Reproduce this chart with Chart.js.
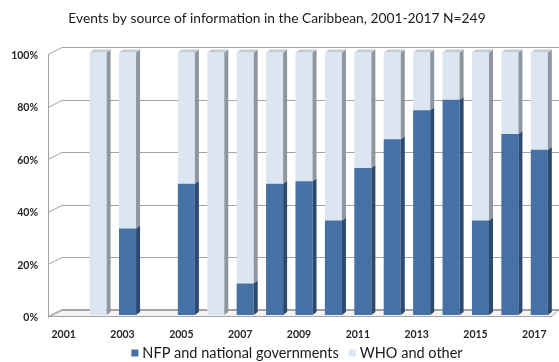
<!DOCTYPE html>
<html>
<head>
<meta charset="utf-8">
<title>Events by source of information</title>
<script src="https://cdn.jsdelivr.net/npm/chart.js@4.4.1/dist/chart.umd.min.js"></script>
<style>
  html, body { margin: 0; padding: 0; background: #fff; }
  #wrap { width: 559px; height: 362px; }
</style>
</head>
<body>
<div id="wrap"><canvas id="chart" width="559" height="362"></canvas></div>
<script>
// Share of events per year by source (percent), Caribbean 2001-2017
const years = ['2001','2002','2003','2004','2005','2006','2007','2008','2009',
               '2010','2011','2012','2013','2014','2015','2016','2017'];
const nfpShare = [null, 0, 33, null, 50, 0, 12, 50, 51, 36, 56, 67, 78, 82, 36, 69, 63];
const whoShare = [null, 100, 67, null, 50, 100, 88, 50, 49, 64, 44, 33, 22, 18, 64, 31, 37];
const yTicks = [0, 20, 40, 60, 80, 100];

const COLORS = {
  nfp:   { front: '#4571a5', side: '#2c4a6f', top: '#3a6191' },
  who:   { front: '#dce6f2', side: '#8e969f', top: '#c3ccd6' },
  grid:  '#a3a3a3',
  text:  '#262626'
};

// depth offsets for the fake 3D look
const BAR_DX = 4, BAR_DY = 3;
const WALL_DX = 14, WALL_DY = 7;

// legend row under the axis
const LEGEND_CX = 297, LEGEND_Y = 353, LEGEND_FONT = '14.5px Lato, "Open Sans", sans-serif';

Chart.defaults.font.family = 'Lato, "Open Sans", sans-serif';
Chart.defaults.color = COLORS.text;

function poly(ctx, pts, fill){
  ctx.beginPath();
  ctx.moveTo(pts[0][0], pts[0][1]);
  for(let i = 1; i < pts.length; i++) ctx.lineTo(pts[i][0], pts[i][1]);
  ctx.closePath();
  ctx.fillStyle = fill;
  ctx.fill();
}

// walls, floor and gridlines behind the bars
const wallPlugin = {
  id: 'wall3d',
  beforeDatasetsDraw(chart){
    const {ctx, chartArea, scales} = chart;
    const y = scales.y;
    const x0 = chartArea.left - 6;
    const right = chart.width;
    ctx.save();
    ctx.lineWidth = 1;
    ctx.strokeStyle = COLORS.grid;

    // floor slab
    const fy = y.getPixelForValue(0) + 1.5;
    ctx.beginPath();
    ctx.moveTo(x0, fy);
    ctx.lineTo(x0 + WALL_DX, fy - WALL_DY);
    ctx.lineTo(right, fy - WALL_DY);
    ctx.lineTo(right - WALL_DY, fy);
    ctx.closePath();
    ctx.fillStyle = '#f4f4f4';
    ctx.fill();
    ctx.stroke();

    // gridlines bent back onto the rear wall
    yTicks.forEach(v => {
      const py = Math.round(y.getPixelForValue(v) + 1.5) + 0.5;
      ctx.beginPath();
      ctx.moveTo(x0, py);
      ctx.lineTo(x0 + WALL_DX, py - WALL_DY);
      ctx.lineTo(right, py - WALL_DY);
      ctx.stroke();
    });

    // left wall edge
    ctx.beginPath();
    ctx.moveTo(x0 + 0.5, y.getPixelForValue(100) + 1.5);
    ctx.lineTo(x0 + 0.5, fy);
    ctx.stroke();
    ctx.restore();
  },
  // side and top faces of each bar segment
  afterDatasetsDraw(chart){
    const {ctx} = chart;
    ctx.save();
    chart.data.datasets.forEach((ds, di) => {
      const c = di === 0 ? COLORS.nfp : COLORS.who;
      chart.getDatasetMeta(di).data.forEach((bar, i) => {
        if(!ds.data[i]) return;
        const {x, y, base, width} = bar.getProps(['x','y','base','width'], true);
        const l = x - width / 2, r = x + width / 2;
        poly(ctx, [[r, y], [r + BAR_DX, y - BAR_DY], [r + BAR_DX, base - BAR_DY], [r, base]], c.side);
        // only the uppermost segment shows its top face
        const above = chart.data.datasets.slice(di + 1).some(d => d.data[i]);
        if(!above){
          poly(ctx, [[l, y], [l + BAR_DX, y - BAR_DY], [r + BAR_DX, y - BAR_DY], [r, y]], c.top);
        }
      });
    });
    ctx.restore();
  },
  // compact legend: small square, short gap, label
  afterDraw(chart){
    const {ctx} = chart;
    const items = chart.data.datasets.map(d => ({ text: d.label, color: d.backgroundColor }));
    const box = 7, gap = 4, spacing = 10;
    ctx.save();
    ctx.font = LEGEND_FONT;
    ctx.textBaseline = 'middle';
    const widths = items.map(it => box + gap + ctx.measureText(it.text).width);
    const total = widths.reduce((s, w) => s + w, 0) + spacing * (items.length - 1);
    let x = LEGEND_CX - total / 2;
    items.forEach((it, i) => {
      ctx.fillStyle = it.color;
      ctx.fillRect(x, LEGEND_Y - box / 2, box, box);
      ctx.fillStyle = '#1a1a1a';
      ctx.fillText(it.text, x + box + gap, LEGEND_Y + 0.5);
      x += widths[i] + spacing;
    });
    ctx.restore();
  }
};

new Chart(document.getElementById('chart'), {
  type: 'bar',
  data: {
    labels: years,
    datasets: [
      { label: 'NFP and national governments', data: nfpShare, backgroundColor: COLORS.nfp.front,
        borderWidth: 0, categoryPercentage: 0.58, barPercentage: 1 },
      { label: 'WHO and other', data: whoShare, backgroundColor: COLORS.who.front,
        borderWidth: 0, categoryPercentage: 0.58, barPercentage: 1 }
    ]
  },
  options: {
    responsive: false,
    animation: false,
    layout: { padding: { left: 0, right: 5, top: 0, bottom: 17 } },
    plugins: {
      title: {
        display: true,
        text: 'Events by source of information in the Caribbean, 2001-2017 N=249',
        font: { size: 13.8, weight: 'normal' },
        color: '#1a1a1a',
        padding: { top: 10, bottom: 26 }
      },
      legend: { display: false },
      tooltip: { enabled: false }
    },
    scales: {
      x: {
        stacked: true,
        grid: { display: false, drawTicks: false },
        border: { display: false },
        afterFit: axis => { axis.height = 30; axis.paddingLeft = 0; axis.paddingRight = 0; },
        ticks: {
          autoSkip: false, maxRotation: 0, padding: 13, labelOffset: -5,
          font: { size: 10.5, weight: 'bold' },
          callback: (val, i) => i % 2 === 0 ? years[i] : ''
        }
      },
      y: {
        stacked: true,
        min: 0, max: 100,
        grid: { display: false, drawTicks: false },
        border: { display: false },
        afterFit: axis => { axis.width = 54; },
        afterBuildTicks: axis => { axis.ticks = yTicks.map(v => ({ value: v })); },
        ticks: {
          padding: 16, labelOffset: 3,
          font: { size: 10.5, weight: 'bold' },
          callback: v => v + '%'
        }
      }
    }
  },
  plugins: [wallPlugin]
});
</script>
</body>
</html>
